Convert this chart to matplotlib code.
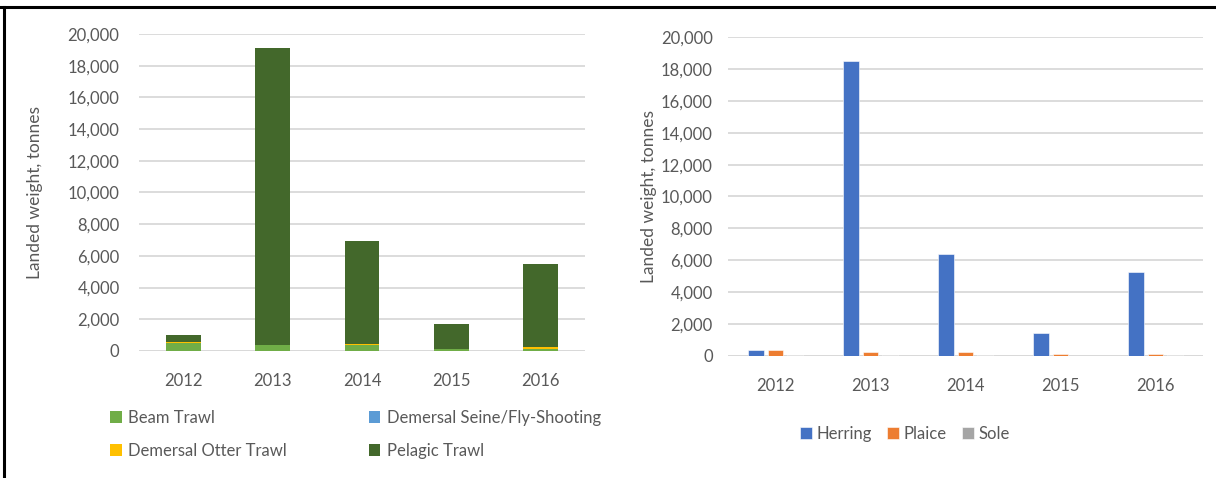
import matplotlib
matplotlib.use("Agg")
import matplotlib.pyplot as plt
from matplotlib.lines import Line2D
from matplotlib.ticker import StrMethodFormatter
import numpy as np

plt.rcParams['font.family'] = ['Lato', 'DejaVu Sans']

years = ['2012', '2013', '2014', '2015', '2016']

# landed weight by gear (tonnes)
beam_trawl = [525, 380, 360, 110, 140]
demersal_seine = [5, 5, 5, 5, 5]
demersal_otter = [60, 10, 60, 5, 80]
pelagic_trawl = [420, 18740, 6520, 1570, 5270]

# landed weight by species (tonnes)
herring = [330, 18530, 6400, 1420, 5260]
plaice = [330, 200, 260, 80, 100]
sole = [70, 60, 60, 10, 20]

text_col = '#595959'
grid_col = '#d9d9d9'
fs = 12

fig = plt.figure(figsize=(12.16, 4.78), dpi=100)


def style_axis(ax, pad_y):
    ax.set_ylim(0, 20000)
    ax.set_yticks(np.arange(0, 20001, 2000))
    ax.yaxis.set_major_formatter(StrMethodFormatter('{x:,.0f}'))
    ax.set_xlim(-0.5, 4.5)
    ax.set_xticks(range(len(years)))
    ax.set_xticklabels(years)
    for s in ax.spines.values():
        s.set_visible(False)
    ax.grid(axis='y', color=grid_col, lw=1.3)
    ax.set_axisbelow(True)
    ax.axhline(0, color=grid_col, lw=1.8, zorder=0.5)
    ax.tick_params(length=0, colors=text_col, labelsize=fs)
    ax.tick_params(axis='y', pad=pad_y)
    ax.tick_params(axis='x', pad=16)
    ax.set_ylabel('Landed weight, tonnes', color=text_col, fontsize=fs + 0.5)


# left panel: stacked by gear
ax1 = fig.add_axes([0.1143, 0.2657, 0.3668, 0.6632])
x = np.arange(len(years))
w = 0.39
bottom = np.zeros(len(years))
gear = [
    ('Beam Trawl', beam_trawl, '#70ad47'),
    ('Demersal Seine/Fly-Shooting', demersal_seine, '#5b9bd5'),
    ('Demersal Otter Trawl', demersal_otter, '#ffc000'),
    ('Pelagic Trawl', pelagic_trawl, '#43682b'),
]
handles = {}
for name, vals, col in gear:
    b = ax1.bar(x, vals, w, bottom=bottom, color=col, label=name, linewidth=0)
    handles[name] = b
    bottom += np.array(vals)
style_axis(ax1, 14)
ax1.yaxis.set_label_coords(-0.215, 0.5)

order = ['Beam Trawl', 'Demersal Otter Trawl', 'Demersal Seine/Fly-Shooting', 'Pelagic Trawl']
fig.legend([handles[k] for k in order], order, loc='upper left',
           bbox_to_anchor=(0.0905, 0.143), ncol=2, frameon=False,
           fontsize=fs, labelcolor=text_col, handlelength=0.7, handleheight=0.7,
           handletextpad=0.4, columnspacing=4.9, labelspacing=1.05,
           borderaxespad=0, borderpad=0)

# right panel: grouped by species
ax2 = fig.add_axes([0.5987, 0.2559, 0.3906, 0.6661])
bw = 0.165
step = 0.205
species = [('Herring', herring, '#4472c4'),
           ('Plaice', plaice, '#ed7d31'),
           ('Sole', sole, '#a5a5a5')]
for i, (name, vals, col) in enumerate(species):
    ax2.bar(x + (i - 1) * step, vals, bw, color=col, label=name,
            edgecolor='white', linewidth=0.4)
style_axis(ax2, 11)
ax2.yaxis.set_label_coords(-0.15, 0.5)
ax2.legend(loc='upper center', bbox_to_anchor=(0.373, -0.22), ncol=3, frameon=False,
           fontsize=fs, labelcolor=text_col, handlelength=0.7, handleheight=0.7,
           handletextpad=0.3, columnspacing=0.9, borderaxespad=0, borderpad=0)

# partial frame of the screenshot
fig.add_artist(Line2D([0, 1], [0.985, 0.985], transform=fig.transFigure,
                      color='black', lw=2.2))
fig.add_artist(Line2D([0.0035, 0.0035], [0, 0.985], transform=fig.transFigure,
                      color='black', lw=2.2))

fig.savefig('out.png', dpi=100)
